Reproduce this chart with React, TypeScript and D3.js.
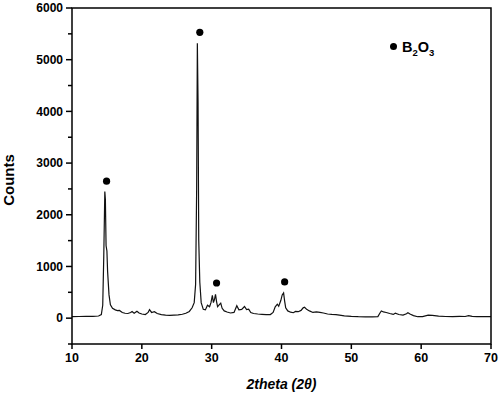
import React from "react";
import * as d3 from "d3";

// XRD pattern
const twoTheta = [
  10, 11, 12, 13, 13.8, 14.2, 14.4, 14.55, 14.7, 14.78, 14.88, 15.0, 15.1, 15.3, 15.5, 15.8,
  16.2, 16.5, 16.8, 17.2, 17.6, 18.0, 18.4, 18.6, 18.9, 19.3, 19.6, 20.0, 20.5, 20.9, 21.1,
  21.4, 21.8, 22.2, 22.8, 23.4, 24.0, 24.6, 25.2, 25.8, 26.3, 26.8, 27.2, 27.5, 27.7, 27.85,
  27.95, 28.05, 28.15, 28.3, 28.5, 28.8, 29.1, 29.4, 29.7, 29.9, 30.1, 30.25, 30.4, 30.55,
  30.7, 30.85, 31.1, 31.3, 31.5, 31.8, 32.2, 32.7, 33.2, 33.6, 33.9, 34.3, 34.7, 35.0, 35.3,
  35.6, 36.0, 36.6, 37.2, 37.8, 38.4, 38.8, 39.1, 39.4, 39.6, 39.9, 40.1, 40.3, 40.45, 40.6,
  40.9, 41.3, 41.7, 42.0, 42.4, 42.8, 43.1, 43.3, 43.6, 44.0, 44.5, 45.0, 45.5, 46.0, 46.6,
  47.2, 47.8, 48.3, 49.0, 50, 51, 52, 53, 53.8, 54.1, 54.3, 54.6, 55.0, 55.5, 56.0, 56.3,
  56.8, 57.4, 57.9, 58.1, 58.4, 58.9, 59.5, 60.2, 61.0, 61.6, 62.5, 63.5, 64.5, 65.5, 66.3,
  66.8, 67.3, 68, 69, 70,
];
const counts = [
  30, 32, 33, 36, 42, 70, 250, 1200, 2450, 2300, 1400, 1300, 900, 450, 260, 190,
  160, 145, 150, 110, 95, 90, 110, 130, 95, 135, 100, 80, 70, 110, 165,
  110, 125, 90, 70, 60, 55, 58, 62, 75, 95, 130, 200, 300, 650, 2500,
  5320, 4200, 1500, 700, 300, 170, 160, 250, 220, 300, 440, 300, 360, 460,
  320, 220, 260, 290, 190, 140, 120, 100, 110, 240, 160, 170, 225, 165, 175,
  110, 90, 80, 75, 70, 70, 110, 220, 270, 230, 340, 450, 490, 330, 200,
  140, 115, 105, 130, 125, 150, 200, 210, 170, 140, 110, 120, 110, 100, 80,
  72, 70, 60, 45, 35, 28, 26, 25, 30, 100, 140, 120, 110, 90, 72, 95,
  70, 60, 85, 105, 80, 50, 28, 30, 58, 52, 40, 32, 30, 35, 32,
  50, 35, 30, 28, 28,
];

// B2O3 marker positions
const markerX = [14.95, 28.3, 30.7, 40.45];
const markerY = [2650, 5530, 680, 700];

const yTicks = [0, 1000, 2000, 3000, 4000, 5000, 6000];
const yMinor = [-500, 500, 1500, 2500, 3500, 4500, 5500];
const xTicks = [10, 20, 30, 40, 50, 60, 70];

const W = 500;
const H = 396;
const left = 72;
const right = 491;
const top = 8;
const bottom = 344;

export default function App() {
  const x = d3.scaleLinear().domain([10, 70]).range([left, right]);
  const y = d3.scaleLinear().domain([-500, 6000]).range([bottom, top]);
  const pts: [number, number][] = twoTheta.map((t, i) => [t, counts[i]]);
  const line = d3
    .line<[number, number]>()
    .x((d) => x(d[0]))
    .y((d) => y(d[1]));
  const font = "'Liberation Sans', Arial, sans-serif";

  return (
    <div style={{ position: "absolute", left: 0, top: 0 }}>
      <svg width={W} height={H} style={{ display: "block", background: "#fff" }} fontFamily={font}>
        <path d={line(pts) || ""} fill="none" stroke="#111" strokeWidth={1.2} />
        {markerX.map((mx, i) => (
          <circle key={i} cx={x(mx)} cy={y(markerY[i])} r={3.6} fill="#000" />
        ))}
        {/* frame */}
        <rect x={left} y={top} width={right - left} height={bottom - top} fill="none" stroke="#000" strokeWidth={1.5} />
        {yTicks.map((t) => (
          <g key={t}>
            <line x1={left - 6} x2={left} y1={y(t)} y2={y(t)} stroke="#000" strokeWidth={1.5} />
            <text x={left - 9} y={y(t)} dy="0.35em" textAnchor="end" fontSize={12} fontWeight="bold">
              {t}
            </text>
          </g>
        ))}
        {yMinor.map((t) => (
          <line key={t} x1={left - 4} x2={left} y1={y(t)} y2={y(t)} stroke="#000" strokeWidth={1.5} />
        ))}
        {xTicks.map((t) => (
          <g key={t}>
            <line x1={x(t)} x2={x(t)} y1={bottom} y2={bottom + 5} stroke="#000" strokeWidth={1.5} />
            <text x={x(t)} y={bottom + 18} textAnchor="middle" fontSize={12.5} fontWeight="bold">
              {t}
            </text>
          </g>
        ))}
        <text x={(left + right) / 2} y={389} textAnchor="middle" fontSize={14} fontWeight="bold" fontStyle="italic">
          2theta (2θ)
        </text>
        <text
          transform={`translate(14, 180) rotate(-90)`}
          textAnchor="middle"
          fontSize={15}
          fontWeight="bold"
        >
          Counts
        </text>
        {/* legend */}
        <circle cx={393.5} cy={46.5} r={3.5} fill="#000" />
        <text x={402} y={51.5} fontSize={14.5} fontWeight="bold">
          B<tspan fontSize={9.5} dy={4}>2</tspan>
          <tspan dy={-4}>O</tspan>
          <tspan fontSize={9.5} dy={4}>3</tspan>
        </text>
      </svg>
    </div>
  );
}
